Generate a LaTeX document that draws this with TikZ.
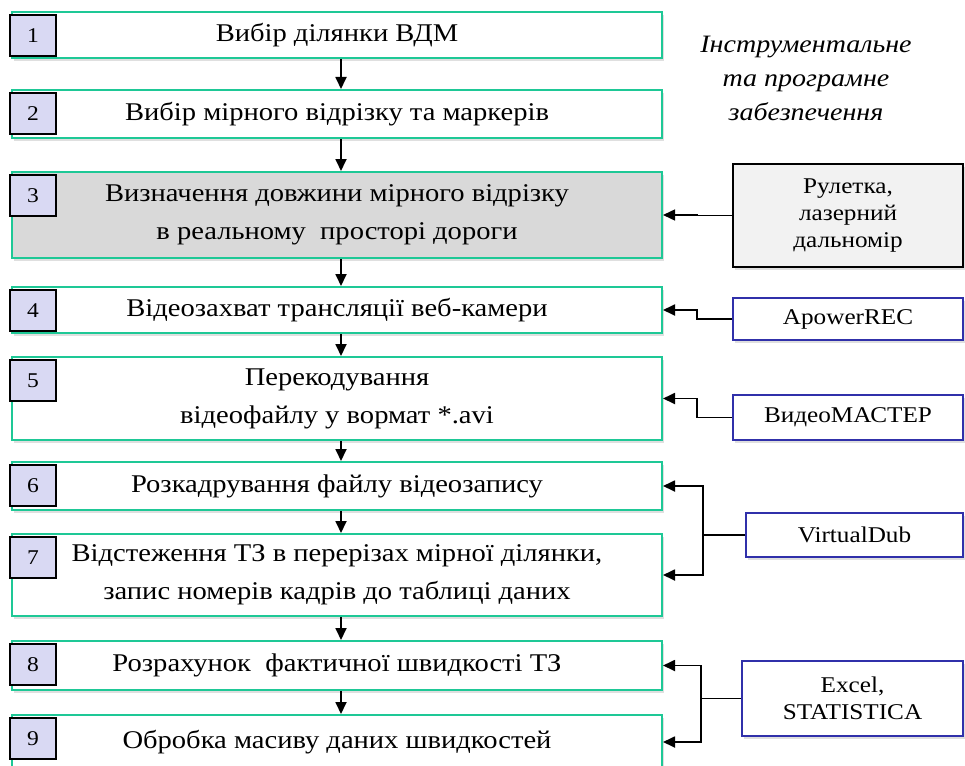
\documentclass[tikz,border=0pt]{standalone}
\usepackage{fontspec}
\setmainfont{Liberation Serif}[FakeStretch=1.12]
\usetikzlibrary{arrows.meta,positioning,shadows}
\definecolor{stepgreen}{RGB}{30,200,150}
\definecolor{stepgrey}{RGB}{217,217,217}
\definecolor{numlilac}{RGB}{217,217,243}
\definecolor{toolblue}{RGB}{48,48,170}
\definecolor{toolgrey}{RGB}{242,242,242}

\begin{document}
\begin{tikzpicture}[x=1pt, y=-1pt,
    stepbox/.style={draw=stepgreen, line width=2pt, fill=white, minimum width=650pt, inner sep=0pt, align=center, font=\fontsize{25.5}{38}\selectfont, drop shadow={shadow xshift=2pt, shadow yshift=-3pt, opacity=0.25}},
    num/.style={draw=black, line width=1.8pt, fill=numlilac, minimum width=46pt, minimum height=41pt, inner sep=0pt, anchor=north west, font=\fontsize{21}{26}\selectfont},
    tool/.style={draw=toolblue, line width=1.8pt, fill=white, inner sep=0pt, align=center, font=\fontsize{22.5}{27}\selectfont, drop shadow={shadow xshift=2pt, shadow yshift=-3pt, opacity=0.25}},
    arr/.style={-{Triangle[length=12pt,width=11pt]}, line width=1.8pt},
]
\useasboundingbox (0,0) rectangle (965,765);

% steps
\node[stepbox, minimum height=46pt] (b1) at (337,35) {Вибір ділянки ВДМ};
\node[stepbox, minimum height=48pt] (b2) at (337,114) {Вибір мірного відрізку та маркерів};
\node[stepbox, minimum height=86pt, fill=stepgrey] (b3) at (337,215) {Визначення довжини мірного відрізку\\в реальному \ просторі дороги};
\node[stepbox, minimum height=46pt] (b4) at (337,310) {Відеозахват трансляції веб-камери};
\node[stepbox, minimum height=83pt] (b5) at (337,398.5) {Перекодування\\відеофайлу у вормат *.avi};
\node[stepbox, minimum height=48pt] (b6) at (337,486) {Розкадрування файлу відеозапису};
\node[stepbox, minimum height=82pt] (b7) at (337,575) {Відстеження ТЗ в перерізах мірної ділянки,\\запис номерів кадрів до таблиці даних};
\node[stepbox, minimum height=49pt] (b8) at (337,665.5) {Розрахунок \ фактичної швидкості ТЗ};
\node[stepbox, minimum height=54pt] (b9) at (337,742) {Обробка масиву даних швидкостей};

\foreach \i in {1,...,9}
  \node[num] (n\i) at ([shift={(-2,3)}]b\i.north west) {\i};

\foreach \i/\j in {1/2,2/3,3/4,4/5,5/6,6/7,7/8,8/9}
  \draw[arr] ([xshift=4pt]b\i.south) -- ([xshift=4pt]b\j.north);

% tools
\node[font=\itshape\fontsize{25}{34}\selectfont, align=center] (hdr) at (806,78) {Інструментальне\\та програмне\\забезпечення};
\node[tool, draw=black, fill=toolgrey, minimum width=230pt, minimum height=103pt] (rul) at (848,215.5) {Рулетка,\\лазерний\\дальномір};
\node[tool, minimum width=230pt, minimum height=42pt] (apw) at (848,319) {ApowerREC};
\node[tool, minimum width=230pt, minimum height=45pt] (vm) at (848,417.5) {ВидеоМАСТЕР};
\node[tool, minimum width=217pt, minimum height=44pt] (vd) at (854.5,535) {VirtualDub};
\node[tool, minimum width=221pt, minimum height=75pt] (ex) at (852.5,698.5) {Excel,\\STATISTICA};

\coordinate (jrul) at ([xshift=-35pt]rul.west);
\coordinate (japw) at ([xshift=-35pt]apw.west);
\coordinate (jvm) at ([xshift=-35pt]vm.west);
\coordinate (jvd) at ([xshift=-42pt]vd.west);
\coordinate (jex) at ([xshift=-40pt]ex.west);

\draw[arr, line width=1.5pt] (rul.west) -- (jrul) |- (b3.east);
\draw[arr] (apw.west) -- (japw) |- (b4.east);
\draw[arr] (vm.west) -- (jvm) |- (b5.east);
\draw[arr] (vd.west) -- (jvd) |- (b6.east);
\draw[arr] (jvd) |- (b7.east);
\draw[arr] (ex.west) -- (jex) |- (b8.east);
\draw[arr] (jex) |- (b9.east);
\end{tikzpicture}
\end{document}
